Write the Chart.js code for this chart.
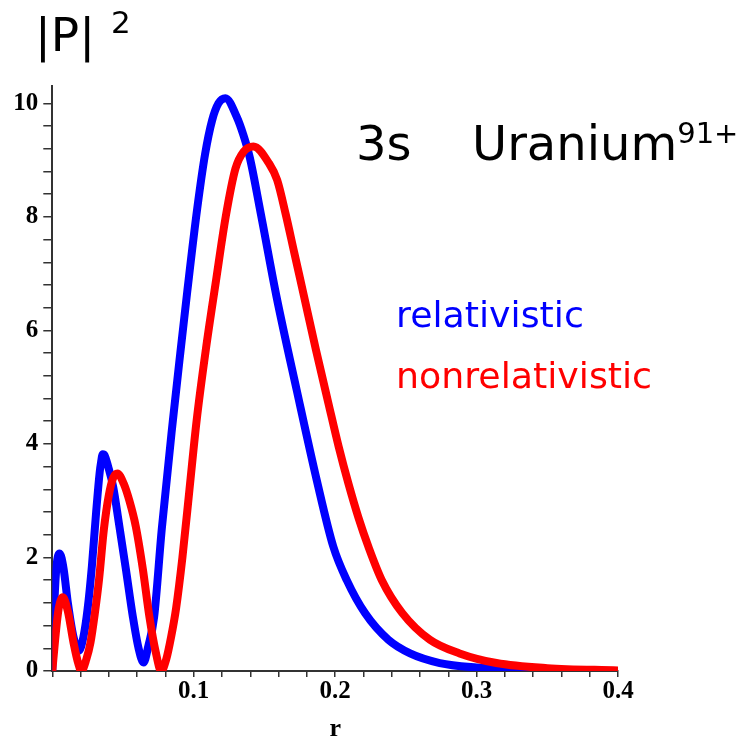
<!DOCTYPE html>
<html>
<head>
<meta charset="utf-8">
<script src="https://cdn.jsdelivr.net/npm/chart.js@4/dist/chart.umd.min.js"></script>
<style>
  html, body { margin: 0; padding: 0; background: #fff; }
  #wrap { width: 740px; height: 739px; position: relative; }
</style>
</head>
<body>
<div id="wrap"><canvas id="c" width="740" height="739"></canvas></div>
<script>
// Radial density |P|^2 of the 3s orbital of U91+, relativistic vs nonrelativistic
const rRel = [0, 0.0015, 0.003, 0.0052, 0.008, 0.011, 0.015, 0.0188, 0.022, 0.025, 0.028, 0.031, 0.0335,
  0.0345, 0.0357, 0.037, 0.0395, 0.043, 0.047, 0.052, 0.057, 0.061, 0.0645, 0.068, 0.072, 0.0774, 0.0852,
  0.0905, 0.0955, 0.1025, 0.108, 0.113, 0.1175, 0.1224, 0.1306, 0.135, 0.1396, 0.1474, 0.1585, 0.1728, 0.187,
  0.1987, 0.2082, 0.2211, 0.2376, 0.253, 0.274, 0.30, 0.33, 0.36, 0.40];
const pRel = [0, 1.2, 1.85, 2.07, 1.8, 1.2, 0.6, 0.36, 0.6, 1.1, 1.85, 2.8, 3.5,
  3.68, 3.82, 3.8, 3.6, 3.25, 2.62, 1.8, 0.95, 0.4, 0.15, 0.45, 0.95, 2.5, 4.4,
  5.6, 6.7, 8.15, 9.1, 9.7, 10.0, 10.09, 9.75, 9.45, 9.05, 8.06, 6.6, 4.95, 3.36,
  2.19, 1.6, 1.02, 0.55, 0.31, 0.14, 0.06, 0.02, 0.005, 0];

const rNonrel = [0, 0.002, 0.0045, 0.0075, 0.011, 0.015, 0.0185, 0.0205, 0.024, 0.027, 0.030, 0.033,
  0.0365, 0.040, 0.043, 0.046, 0.0505, 0.0545, 0.059, 0.064, 0.0687, 0.073, 0.077, 0.0805, 0.084,
  0.0875, 0.092, 0.097, 0.102, 0.1085, 0.1156, 0.1226, 0.1295, 0.1353, 0.1422, 0.1533, 0.159, 0.165,
  0.171, 0.178, 0.1865, 0.1952, 0.2025, 0.2094, 0.2165, 0.2235, 0.233, 0.2475, 0.267, 0.288, 0.314,
  0.35, 0.40];
const pNonrel = [0, 0.55, 1.1, 1.3, 1.05, 0.5, 0.12, 0, 0.2, 0.5, 1.0, 1.6,
  2.5, 3.1, 3.4, 3.48, 3.3, 3.0, 2.55, 1.8, 0.95, 0.35, 0, 0.2, 0.6,
  1.1, 2.0, 3.2, 4.4, 5.65, 6.85, 8.0, 8.85, 9.15, 9.24, 8.94, 8.65, 8.05,
  7.38, 6.6, 5.65, 4.72, 3.95, 3.3, 2.7, 2.19, 1.6, 1.02, 0.55, 0.31, 0.14,
  0.05, 0.01];

const xTickLabels = ['0.1', '0.2', '0.3', '0.4'];
const yTickLabels = ['0', '2', '4', '6', '8', '10'];

const toPoints = (xs, ys) => xs.map((x, i) => ({ x, y: ys[i] }));

const near = (v, list) => list.find(s => Math.abs(parseFloat(s) - v) < 1e-6);

const annotations = {
  id: 'annotations',
  afterDraw(chart) {
    const ctx = chart.ctx;
    ctx.save();
    ctx.textBaseline = 'alphabetic';
    ctx.textAlign = 'left';
    ctx.fillStyle = '#000';
    ctx.font = '47px "DejaVu Sans"';
    ctx.fillText('|P|', 35, 51);
    ctx.font = '31px "DejaVu Sans"';
    ctx.fillText('2', 111, 33);

    ctx.font = '48px "DejaVu Sans"';
    ctx.fillText('3s', 356, 160);
    ctx.fillText('Uranium', 472, 160);
    const w = ctx.measureText('Uranium').width;
    ctx.font = '29px "DejaVu Sans"';
    ctx.fillText('91+', 472 + w, 143);

    ctx.font = '36.3px "DejaVu Sans"';
    ctx.fillStyle = '#0000ff';
    ctx.fillText('relativistic', 396, 327);
    ctx.fillStyle = '#ff0000';
    ctx.fillText('nonrelativistic', 396, 388);
    ctx.restore();
  }
};

new Chart(document.getElementById('c'), {
  type: 'line',
  data: {
    datasets: [
      {
        label: 'nonrelativistic',
        data: toPoints(rNonrel, pNonrel),
        borderColor: '#ff0000',
        borderWidth: 8,
        pointRadius: 0,
        cubicInterpolationMode: 'monotone',
        fill: false,
        order: 0
      },
      {
        label: 'relativistic',
        data: toPoints(rRel, pRel),
        borderColor: '#0000ff',
        borderWidth: 8,
        pointRadius: 0,
        cubicInterpolationMode: 'monotone',
        fill: false,
        order: 1
      }
    ]
  },
  options: {
    responsive: false,
    animation: false,
    events: [],
    layout: { padding: { left: 0, top: 86.3, right: 122, bottom: 0 } },
    plugins: { legend: { display: false }, tooltip: { enabled: false }, title: { display: false } },
    scales: {
      x: {
        type: 'linear',
        min: 0,
        max: 0.4,
        afterFit(scale) { scale.height = 68; },
        border: { display: true, color: '#333', width: 2 },
        grid: { drawOnChartArea: false, drawTicks: true, tickLength: 6, color: '#333', lineWidth: 1.5 },
        ticks: {
          stepSize: 0.02,
          autoSkip: false,
          maxRotation: 0,
          padding: 0,
          color: '#000',
          font: { family: '"Liberation Serif"', size: 25, weight: 'bold' },
          callback(v) { return v > 0 ? (near(v, xTickLabels) || '') : ''; }
        },
        title: {
          display: true,
          text: 'r',
          color: '#000',
          padding: { top: 0, bottom: -6 },
          font: { family: '"Liberation Serif"', size: 26, weight: 'bold' }
        }
      },
      y: {
        type: 'linear',
        min: 0,
        max: 10.3,
        afterFit(scale) { scale.width = 52.3; },
        border: { display: true, color: '#333', width: 2 },
        grid: { drawOnChartArea: false, drawTicks: true, tickLength: 9, color: '#333', lineWidth: 1.5 },
        ticks: {
          stepSize: 0.4,
          includeBounds: false,
          autoSkip: false,
          padding: 5,
          color: '#000',
          font: { family: '"Liberation Serif"', size: 25, weight: 'bold' },
          callback(v) { return near(v, yTickLabels) || ''; }
        }
      }
    }
  },
  plugins: [annotations]
});
</script>
</body>
</html>
